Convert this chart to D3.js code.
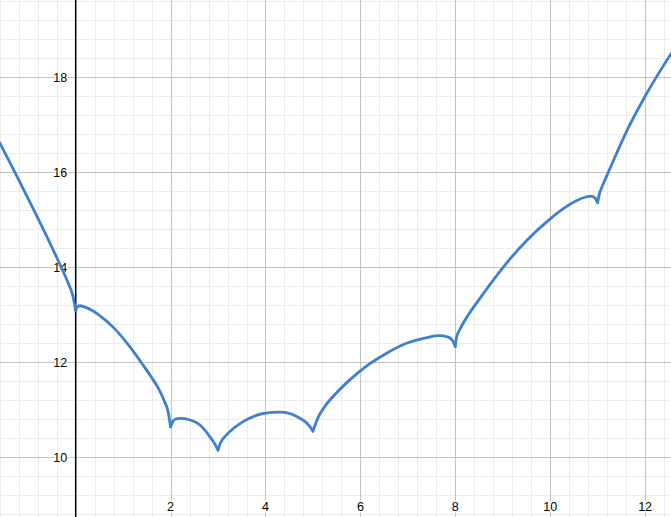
<!DOCTYPE html>
<html>
<head>
<meta charset="utf-8">
<script src="https://cdn.jsdelivr.net/npm/d3@7"></script>
<style>
  body { margin: 0; background: #fff; }
  svg { display: block; }
  .lbl { font-family: Arial, "Liberation Sans", sans-serif; font-size: 12.5px; fill: #000;
         stroke: #fff; stroke-width: 3px; paint-order: stroke; stroke-linejoin: round; }
</style>
</head>
<body>
<div id="chart"></div>
<script>
// curve samples
const curveX = [-1.6, -1.2, -0.8, -0.5, -0.3, -0.15, -0.06, 0,
  0.03, 0.09, 0.2, 0.35, 0.5, 0.8, 1.1, 1.4, 1.6, 1.75, 1.87, 1.95, 2,
  2.05, 2.1, 2.2, 2.4, 2.62, 2.83, 2.95, 3,
  3.05, 3.18, 3.53, 4.0, 4.31, 4.66, 4.87, 4.95, 5,
  5.1, 5.25, 5.5, 5.8, 6.1, 6.5, 7.0, 7.4, 7.65, 7.85, 7.95, 8,
  8.02, 8.1, 8.25, 8.5, 9.0, 9.5, 10.0, 10.3, 10.55, 10.75, 10.87, 10.95, 11,
  11.03, 11.1, 11.22, 11.4, 11.6, 12.0, 12.6];
const curveY = [16.62, 15.84, 15.04, 14.42, 13.99, 13.65, 13.40, 13.09,
  13.16, 13.19, 13.16, 13.09, 12.99, 12.73, 12.38, 11.97, 11.68, 11.44, 11.18, 10.95, 10.64,
  10.76, 10.80, 10.82, 10.79, 10.68, 10.43, 10.25, 10.15,
  10.30, 10.47, 10.75, 10.93, 10.95, 10.86, 10.72, 10.63, 10.55,
  10.82, 11.07, 11.36, 11.65, 11.90, 12.16, 12.41, 12.52, 12.56, 12.53, 12.45, 12.33,
  12.50, 12.70, 12.96, 13.32, 13.99, 14.56, 15.02, 15.25, 15.40, 15.48, 15.50, 15.45, 15.36,
  15.52, 15.71, 15.99, 16.40, 16.84, 17.60, 18.58];
const cuspX = [0, 2, 3, 5, 8, 11];

const xTicks = [2, 4, 6, 8, 10, 12];
const yTicks = [10, 12, 14, 16, 18];

const W = 671, H = 517;

const x = d3.scaleLinear().domain([-1.595, 12.546]).range([0, W]);
const y = d3.scaleLinear().domain([8.743, 19.627]).range([H, 0]);

const svg = d3.select('#chart').append('svg')
  .attr('width', W)
  .attr('height', H);

// minor grid, every 0.4
const minorX = d3.range(-4, 32).map(i => i * 0.4).filter(v => v >= -1.6 && v <= 12.6);
const minorY = d3.range(21, 50).map(i => i * 0.4);
svg.append('g').selectAll('line').data(minorX).enter().append('line')
  .attr('x1', d => Math.round(x(d)) + 0.5).attr('x2', d => Math.round(x(d)) + 0.5)
  .attr('y1', 0).attr('y2', H)
  .style('stroke', '#ebebeb').style('stroke-width', 1);
svg.append('g').selectAll('line').data(minorY).enter().append('line')
  .attr('y1', d => Math.round(y(d)) + 0.5).attr('y2', d => Math.round(y(d)) + 0.5)
  .attr('x1', 0).attr('x2', W)
  .style('stroke', '#ebebeb').style('stroke-width', 1);

// major grid
svg.append('g').selectAll('line').data(xTicks).enter().append('line')
  .attr('x1', d => Math.round(x(d)) + 0.5).attr('x2', d => Math.round(x(d)) + 0.5)
  .attr('y1', 0).attr('y2', H)
  .style('stroke', '#c2c2c2').style('stroke-width', 1);
svg.append('g').selectAll('line').data(yTicks).enter().append('line')
  .attr('y1', d => Math.round(y(d)) + 0.5).attr('y2', d => Math.round(y(d)) + 0.5)
  .attr('x1', 0).attr('x2', W)
  .style('stroke', '#c2c2c2').style('stroke-width', 1);

// y axis
svg.append('line')
  .attr('x1', x(0)).attr('x2', x(0))
  .attr('y1', 0).attr('y2', H)
  .style('stroke', '#000').style('stroke-width', 1.5);

// labels
svg.append('g').selectAll('text').data(xTicks).enter().append('text')
  .attr('class', 'lbl')
  .attr('x', d => x(d))
  .attr('y', H - 6.5)
  .attr('text-anchor', 'middle')
  .text(d => d);
svg.append('g').selectAll('text').data(yTicks).enter().append('text')
  .attr('class', 'lbl')
  .attr('x', x(0) - 8.5)
  .attr('y', d => y(d) + 4.5)
  .attr('text-anchor', 'end')
  .text(d => d);

// curve, one path per piece between cusps
const pts = curveX.map((v, i) => [v, curveY[i]]);
const bounds = [-Infinity, ...cuspX, Infinity];
const line = d3.line()
  .x(d => x(d[0]))
  .y(d => y(d[1]))
  .curve(d3.curveMonotoneX);

for (let i = 0; i < bounds.length - 1; i++) {
  const seg = pts.filter(p => p[0] >= bounds[i] && p[0] <= bounds[i + 1]);
  if (seg.length < 2) continue;
  svg.append('path')
    .datum(seg)
    .attr('d', line)
    .style('fill', 'none')
    .style('stroke', '#3d80d0')
    .style('stroke-width', 2.8)
    .style('stroke-linecap', 'round')
    .style('stroke-linejoin', 'round');
}
</script>
</body>
</html>
